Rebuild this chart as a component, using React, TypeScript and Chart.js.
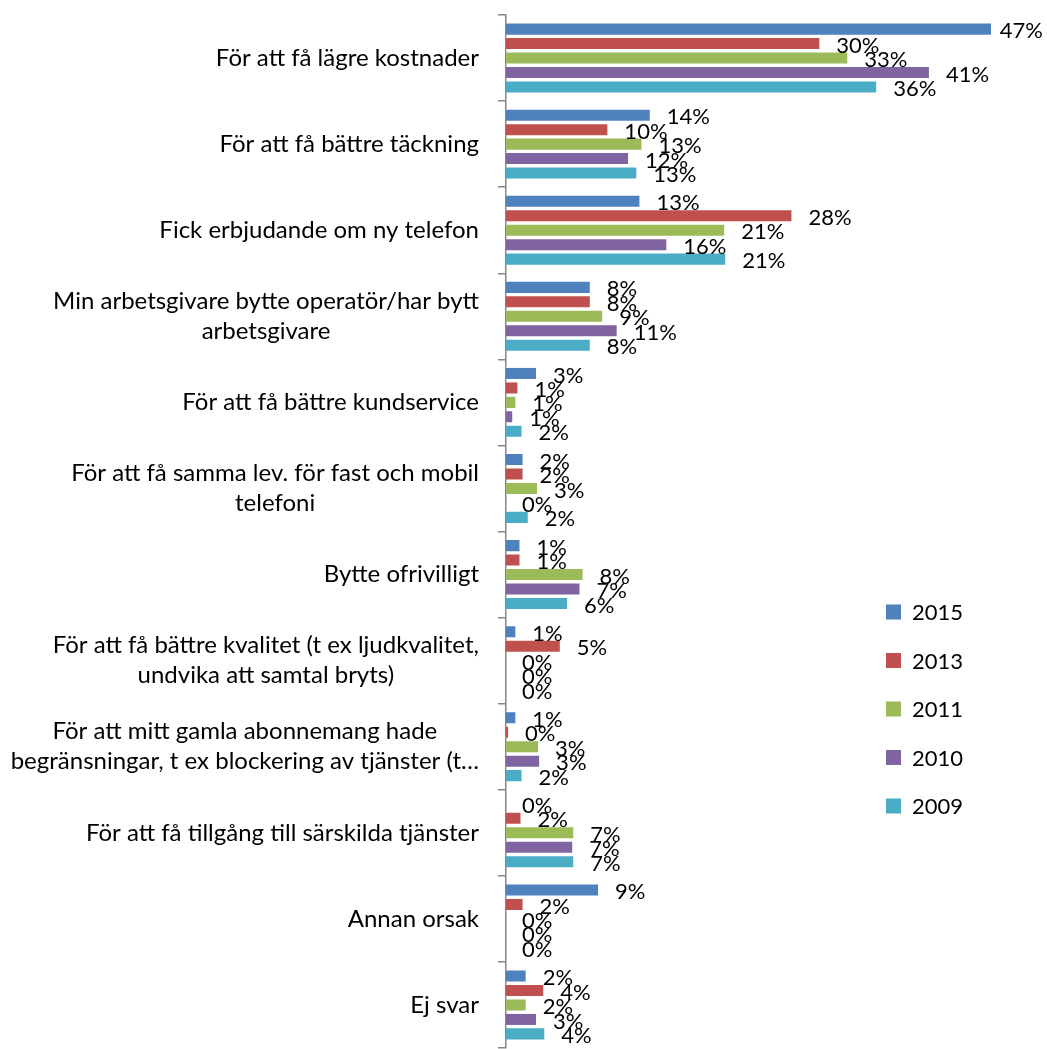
import { useEffect, useRef } from "react";
import { Chart, registerables } from "chart.js";

Chart.register(...registerables);

const categories: string[][] = [
  ["För att få lägre kostnader"],
  ["För att få bättre täckning"],
  ["Fick erbjudande om ny telefon"],
  ["Min arbetsgivare bytte operatör/har bytt", "arbetsgivare"],
  ["För att få bättre kundservice"],
  ["För att få samma lev. för fast och mobil", "telefoni"],
  ["Bytte ofrivilligt"],
  ["För att få bättre kvalitet (t ex ljudkvalitet,", "undvika att samtal bryts)"],
  ["För att mitt gamla abonnemang hade", "begränsningar, t ex blockering av tjänster (t…"],
  ["För att få tillgång till särskilda tjänster"],
  ["Annan orsak"],
  ["Ej svar"],
];

const seriesNames = ["2015", "2013", "2011", "2010", "2009"];
const seriesColors = ["#4F81BD", "#C0504D", "#9BBB59", "#8064A2", "#4BACC6"];

const values2015 = [47, 14, 13, 8.2, 3, 1.7, 1.4, 1, 1, 0, 9, 2];
const values2013 = [30.4, 9.9, 27.7, 8.2, 1.2, 1.7, 1.4, 5.3, 0.3, 1.5, 1.7, 3.7];
const values2011 = [33.1, 13.2, 21.2, 9.4, 1.0, 3.1, 7.5, 0, 3.2, 6.6, 0, 2.0];
const values2010 = [41, 11.9, 15.6, 10.8, 0.7, 0, 7.2, 0, 3.3, 6.5, 0, 3.0];
const values2009 = [35.9, 12.7, 21.3, 8.2, 1.6, 2.2, 6.0, 0, 1.6, 6.6, 0, 3.8];

const seriesValues = [values2015, values2013, values2011, values2010, values2009];

const FONT = "Lato, 'Open Sans', sans-serif";
const FONT_SIZE = 22;
const CAT_FONT_SIZE = 24;

const yLabelsPlugin = {
  id: "yLabels",
  afterDraw(chart: any) {
    const ctx = chart.ctx;
    const yScale = chart.scales.y;
    const right = chart.chartArea.left - 27;
    ctx.save();
    ctx.font = `${CAT_FONT_SIZE}px ${FONT}`;
    ctx.fillStyle = "#000";
    ctx.textAlign = "center";
    ctx.textBaseline = "middle";
    const lineH = 30;
    categories.forEach((lines, i) => {
      const y = yScale.getPixelForTick(i);
      const widest = Math.max(...lines.map((l) => ctx.measureText(l).width));
      const cx = right - widest / 2;
      lines.forEach((l, j) => {
        ctx.fillText(l, cx, y + (j - (lines.length - 1) / 2) * lineH);
      });
    });
    ctx.restore();
  },
};

const valueLabelsPlugin = {
  id: "valueLabels",
  afterDatasetsDraw(chart: any) {
    const ctx = chart.ctx;
    ctx.save();
    ctx.font = `${FONT_SIZE}px ${FONT}`;
    ctx.fillStyle = "#000";
    ctx.textAlign = "left";
    ctx.textBaseline = "middle";
    chart.data.datasets.forEach((ds: any, di: number) => {
      const meta = chart.getDatasetMeta(di);
      meta.data.forEach((bar: any, i: number) => {
        const v = ds.data[i];
        const txt = `${Math.round(v)}%`;
        const w = ctx.measureText(txt).width;
        let x = bar.x + 16;
        const maxX = chart.width - 4 - w;
        if (x > maxX) x = maxX;
        ctx.fillText(txt, x, bar.y + 2);
      });
    });
    ctx.restore();
  },
};

const legendPlugin = {
  id: "customLegend",
  afterDraw(chart: any) {
    const ctx = chart.ctx;
    ctx.save();
    ctx.font = `${FONT_SIZE}px ${FONT}`;
    ctx.textAlign = "left";
    ctx.textBaseline = "middle";
    const x0 = 886;
    const y0 = 612;
    const step = 48.5;
    chart.data.datasets.forEach((ds: any, i: number) => {
      const y = y0 + i * step;
      ctx.fillStyle = ds.backgroundColor;
      ctx.fillRect(x0, y - 7.5, 15, 15);
      ctx.fillStyle = "#000";
      ctx.fillText(ds.label, x0 + 26, y + 1);
    });
    ctx.restore();
  },
};

export default function App() {
  const ref = useRef<HTMLCanvasElement | null>(null);
  useEffect(() => {
    document.body.style.margin = "0";
    if (!ref.current) return;
    const chart = new Chart(ref.current, {
      type: "bar",
      data: {
        labels: categories,
        datasets: seriesNames.map((name, i) => ({
          label: name,
          data: seriesValues[i],
          backgroundColor: seriesColors[i],
          borderColor: "rgba(255,255,255,0.5)",
          borderWidth: 1,
          categoryPercentage: 0.84,
          barPercentage: 0.9,
        })),
      },
      options: {
        indexAxis: "y",
        animation: false,
        responsive: true,
        maintainAspectRatio: false,
        layout: { padding: { left: 8, right: 24, top: 15, bottom: 1 } },
        plugins: {
          legend: { display: false },
          tooltip: { enabled: false },
        },
        scales: {
          x: { display: false, min: 0, max: 50 },
          y: {
            afterFit: (scale: any) => {
              scale.width = 498;
            },
            ticks: { display: false },
            grid: {
              display: true,
              drawOnChartArea: false,
              drawTicks: true,
              tickLength: 8,
              offset: true,
              color: "#868686",
              lineWidth: 1.5,
            },
            border: { display: true, color: "#868686", width: 1.5 },
          },
        },
      },
      plugins: [yLabelsPlugin, valueLabelsPlugin, legendPlugin],
    });
    return () => chart.destroy();
  }, []);
  return (
    <div style={{ width: 1047, height: 1049, position: "relative" }}>
      <canvas ref={ref} />
    </div>
  );
}
